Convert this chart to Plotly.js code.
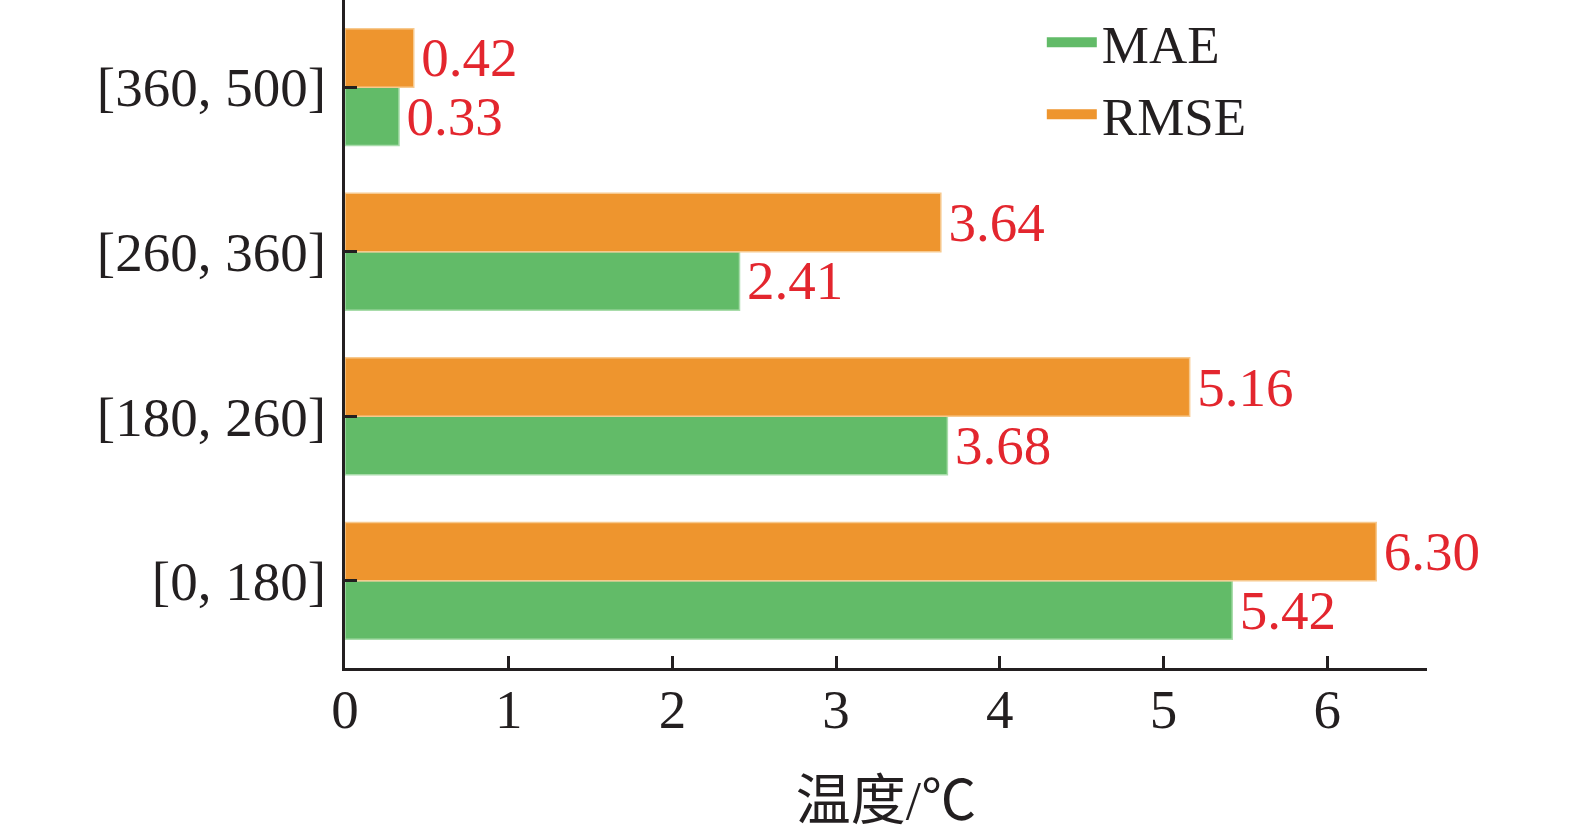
<!DOCTYPE html>
<html>
<head>
<meta charset="utf-8">
<script src="https://cdn.plot.ly/plotly-3.0.1.min.js"></script>
<style>
  html, body { margin: 0; padding: 0; background: #fff; }
  #graph { width: 1575px; height: 833px; }
</style>
</head>
<body>
<div id="graph"></div>
<script>
// temperature bands (bottom to top) and the two error measures
const bands = ['[0, 180]', '[180, 260]', '[260, 360]', '[360, 500]'];
const maeVals = [5.42, 3.68, 2.41, 0.33];
const rmseVals = [6.30, 5.16, 3.64, 0.42];
const xTicks = [0, 1, 2, 3, 4, 5, 6];

const serif = 'Liberation Serif, Times New Roman, Noto Sans CJK SC, serif';
const ink = '#231f20';
const labelRed = '#e3262e';
const green = '#62bb68';
const orange = '#ee952e';

function barTrace(name, vals, fill, edge) {
    return {
        type: 'bar',
        orientation: 'h',
        name: name,
        y: bands,
        x: vals,
        showlegend: false,
        marker: { color: fill, line: { color: edge, width: 1.5 } },
        texttemplate: '\u200a%{x:.2f}',
        textposition: 'outside',
        constraintext: 'none',
        cliponaxis: false,
        textfont: { family: serif, size: 55, color: labelRed },
        hoverinfo: 'skip'
    };
}

// legend-only entries so the key shows wide swatches like the original
function keyTrace(name, fill) {
    return {
        type: 'scatter',
        mode: 'lines',
        name: name,
        x: [null],
        y: [null],
        line: { color: fill, width: 20 },
        hoverinfo: 'skip'
    };
}

var data = [
    barTrace('MAE', maeVals, green, '#a8dcaa'),
    barTrace('RMSE', rmseVals, orange, '#f7c98e'),
    keyTrace('MAE', green),
    keyTrace('RMSE', orange)
];

var layout = {
    width: 1575,
    height: 833,
    paper_bgcolor: '#fff',
    plot_bgcolor: '#fff',
    barmode: 'group',
    bargap: 0.29,
    bargroupgap: 0,
    margin: { l: 345, r: 148, t: 0, b: 165, pad: 0 },
    font: { family: serif, size: 54, color: ink },
    showlegend: true,
    legend: {
        x: 0.644, xanchor: 'left',
        y: 0.998, yanchor: 'top',
        bgcolor: 'rgba(0,0,0,0)',
        font: { family: serif, size: 53, color: ink },
        itemwidth: 50
    },
    xaxis: {
        range: [0, 6.61],
        tickvals: xTicks,
        ticks: 'inside',
        ticklen: 12,
        tickwidth: 3,
        tickcolor: ink,
        showline: true,
        linewidth: 3,
        linecolor: ink,
        showgrid: false,
        zeroline: false,
        ticklabelstandoff: -9,
        tickfont: { family: serif, size: 55, color: ink },
        title: {
            text: '温度/℃',
            font: { family: serif, size: 55, color: ink },
            standoff: 42
        }
    },
    yaxis: {
        type: 'category',
        categoryorder: 'array',
        categoryarray: bands,
        range: [-0.53, 3.53],
        fixedrange: true,
        ticks: 'inside',
        ticklen: 12,
        tickwidth: 3,
        tickcolor: ink,
        showline: true,
        linewidth: 3,
        linecolor: ink,
        showgrid: false,
        zeroline: false,
        ticklabelstandoff: 5,
        tickfont: { family: serif, size: 55, color: ink }
    }
};

Plotly.newPlot('graph', data, layout, { displayModeBar: false, staticPlot: true });
</script>
</body>
</html>
